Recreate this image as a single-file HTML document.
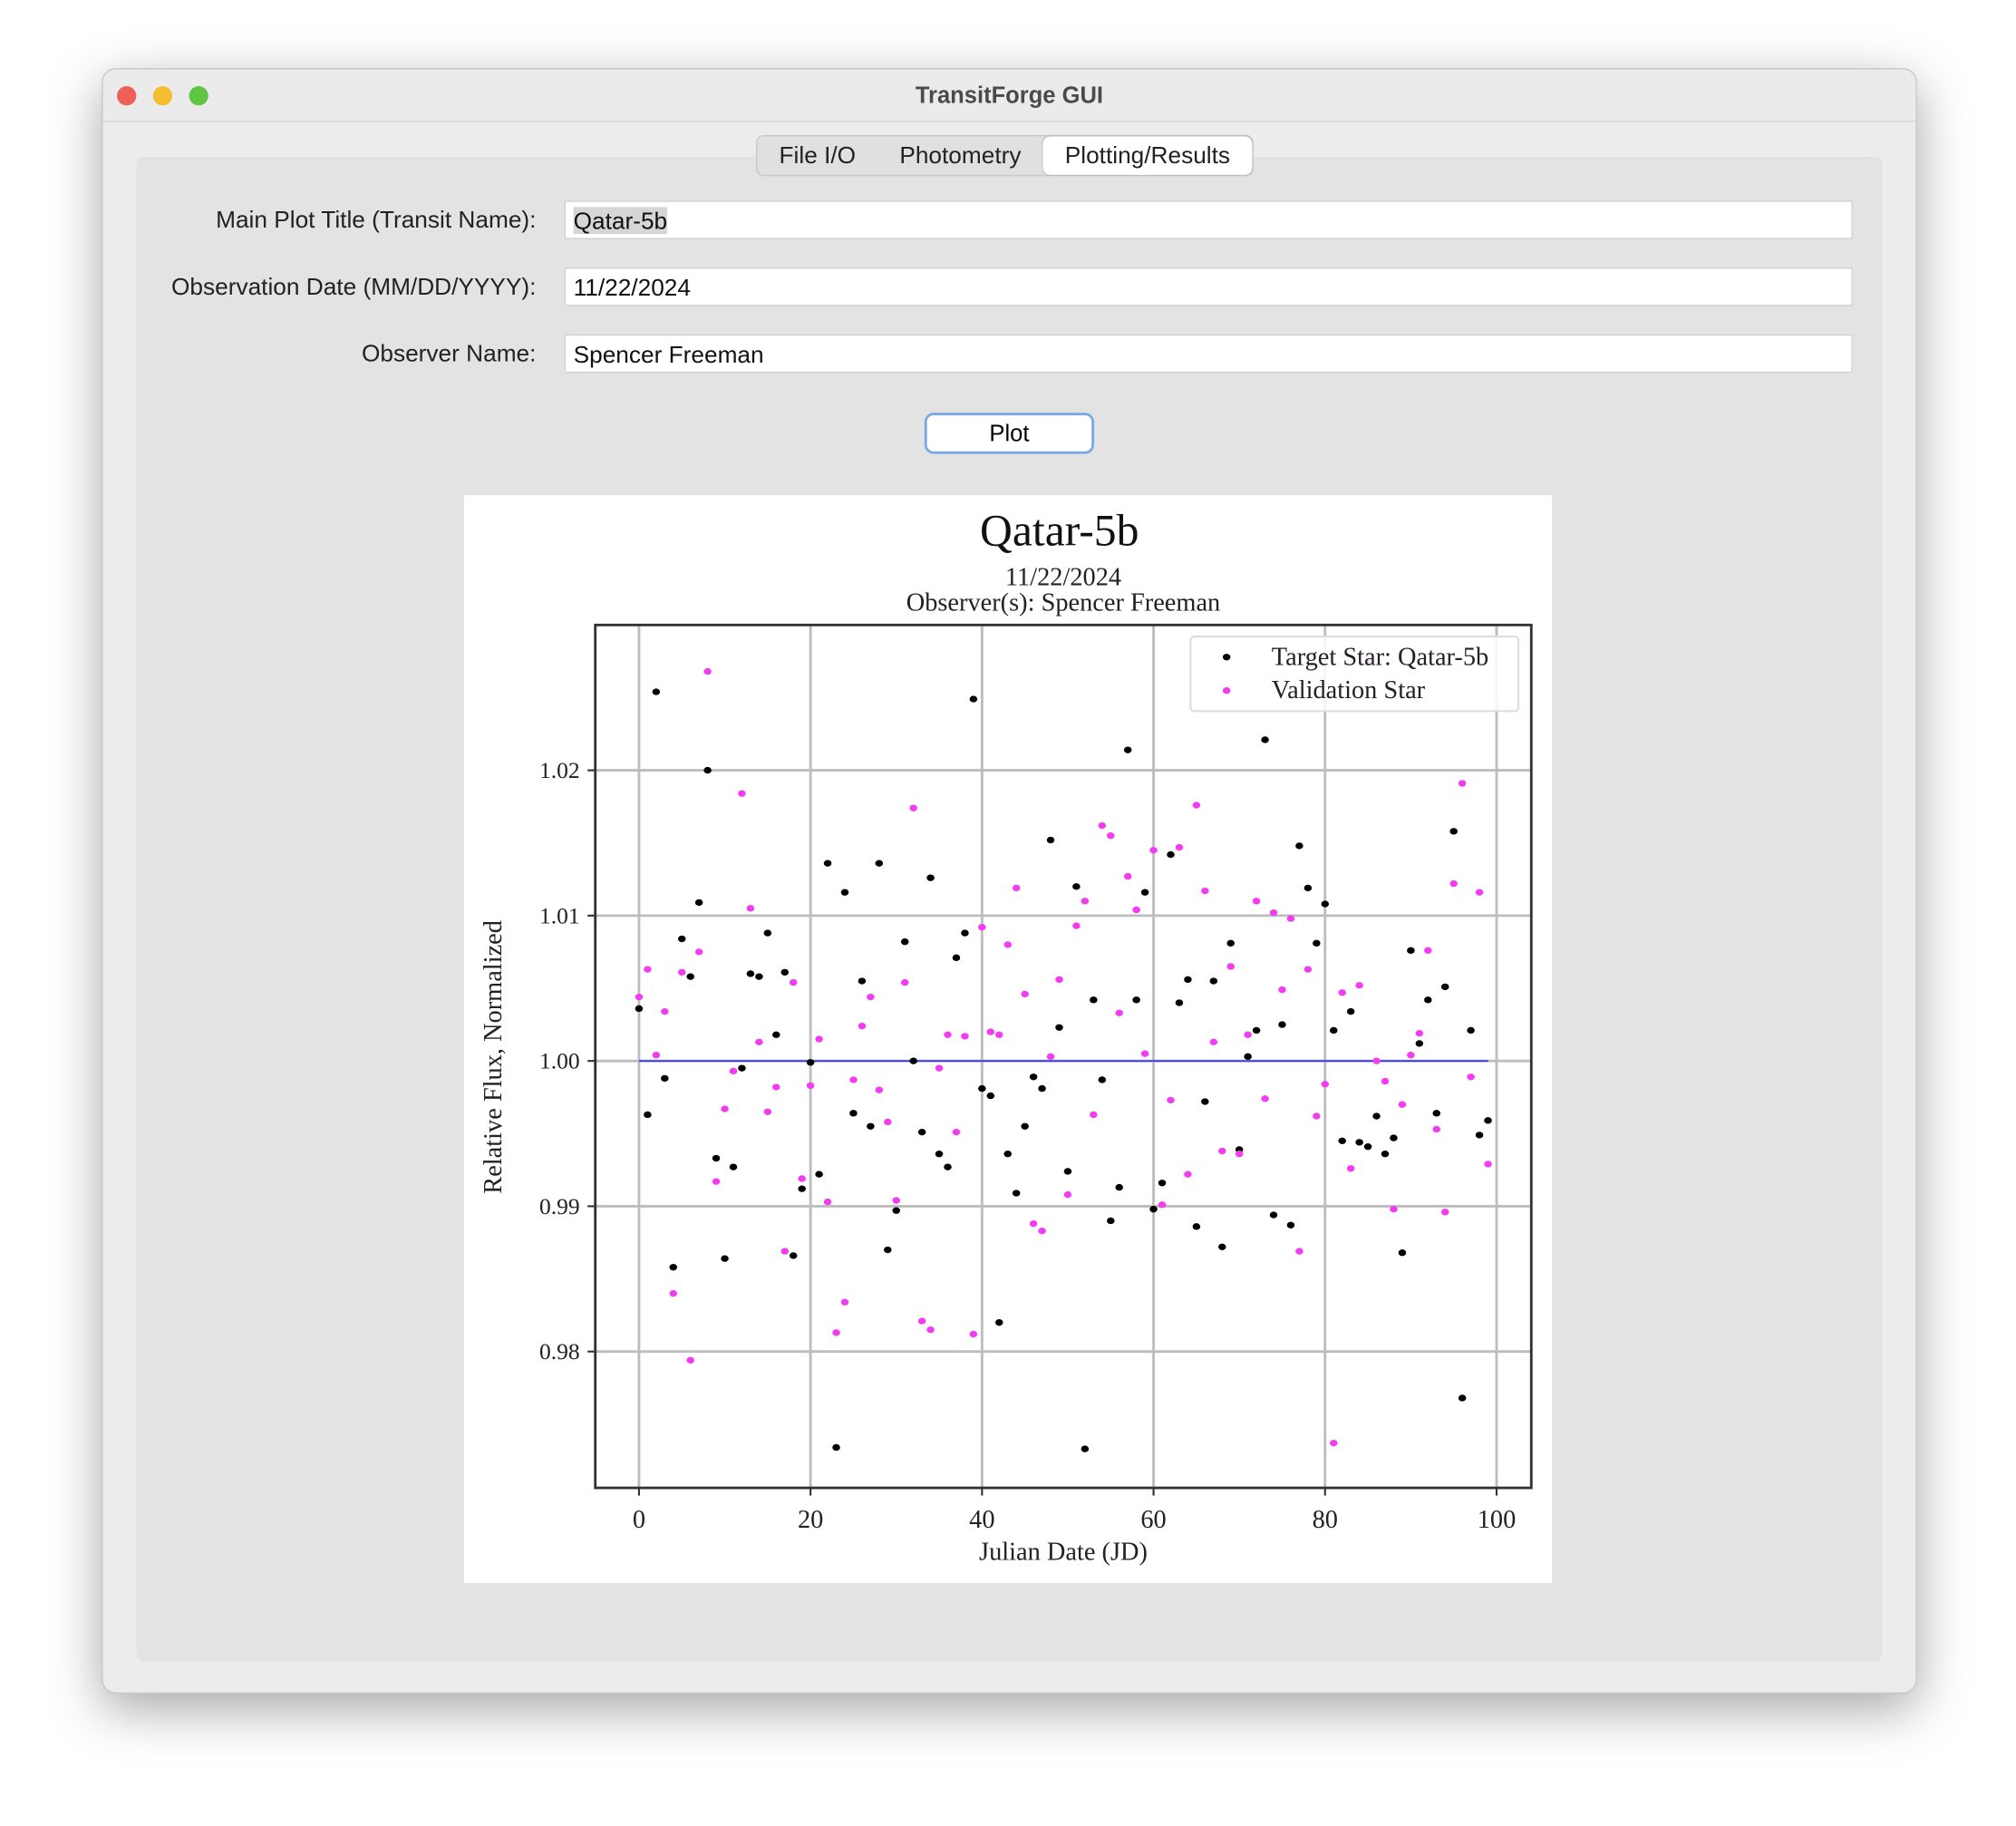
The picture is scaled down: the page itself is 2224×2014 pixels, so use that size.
<!DOCTYPE html>
<html><head><meta charset="utf-8">
<style>
html,body{margin:0;padding:0;background:#fff;}
body{width:2224px;height:2014px;overflow:hidden;font-family:"Liberation Sans",sans-serif;}
#scale{width:1568px;height:1420px;transform:scale(1.41837);transform-origin:0 0;position:relative;}
.win{position:absolute;left:79px;top:53px;width:1410px;height:1262px;background:#ececec;border-radius:11px;box-shadow:0 12px 40px rgba(0,0,0,.35);border:1px solid #c8c8c8;overflow:hidden;}
.titlebar{height:40px;border-bottom:1px solid #d4d4d4;background:#ebebeb;text-align:center;line-height:40px;font-weight:bold;font-size:18px;color:#4a4a4a;}
.dot{position:absolute;top:13px;width:15px;height:15px;border-radius:50%;}
.panel{position:absolute;left:26px;top:68px;width:1358px;height:1170px;background:#e3e3e3;border-radius:6px;}
.tabs{position:absolute;left:508px;top:51px;height:30px;display:flex;border:1px solid #c9c9c9;border-radius:6px;background:#e0e0e0;font-size:18.5px;z-index:2;}
.tab{padding:0 17px;line-height:30px;color:#222;}
.tab.sel{background:#fff;border-radius:6px;box-shadow:0 0 1px #999;}
.lbl{position:absolute;font-size:18.5px;color:#222;text-align:right;width:340px;}
.inp{position:absolute;left:333px;width:1002px;height:30px;background:#fff;border:1px solid #d0d0d0;font-size:18.5px;line-height:30px;padding-left:6px;box-sizing:border-box;color:#111;}
.btn{position:absolute;left:613px;top:199px;width:132px;height:32px;border:2px solid #7aa7e6;border-radius:7px;background:#fff;text-align:center;line-height:28px;font-size:18px;box-sizing:border-box;}
</style></head><body>
<div id="scale">
<div class="win">
  <div class="titlebar">TransitForge GUI</div>
  <div class="dot" style="left:11px;background:#ee5f57"></div>
  <div class="dot" style="left:39px;background:#f5bd30"></div>
  <div class="dot" style="left:67px;background:#5ec642"></div>
  <div class="tabs">
    <div class="tab">File I/O</div>
    <div class="tab">Photometry</div>
    <div class="tab sel">Plotting/Results</div>
  </div>
  <div class="panel">
    <div class="lbl" style="left:-29px;top:38px">Main Plot Title (Transit Name):</div>
    <div class="inp" style="top:34px"><span style="background:#d6d6d6">Qatar-5b</span></div>
    <div class="lbl" style="left:-29px;top:90px">Observation Date (MM/DD/YYYY):</div>
    <div class="inp" style="top:86px">11/22/2024</div>
    <div class="lbl" style="left:-29px;top:142px">Observer Name:</div>
    <div class="inp" style="top:138px">Spencer Freeman</div>
    <div class="btn">Plot</div>
  </div>
</div>
<svg id="chart" style="position:absolute;left:361px;top:385px" width="846" height="846" font-family="Liberation Serif, serif"></svg>
</div>
<script>
const target=[1.0036,0.9963,1.0254,0.9988,0.9858,1.0084,1.0058,1.0109,1.0200,0.9933,0.9864,0.9927,0.9995,1.0060,1.0058,1.0088,1.0018,1.0061,0.9866,0.9912,0.9999,0.9922,1.0136,0.9734,1.0116,0.9964,1.0055,0.9955,1.0136,0.9870,0.9897,1.0082,1.0000,0.9951,1.0126,0.9936,0.9927,1.0071,1.0088,1.0249,0.9981,0.9976,0.9820,0.9936,0.9909,0.9955,0.9989,0.9981,1.0152,1.0023,0.9924,1.0120,0.9733,1.0042,0.9987,0.9890,0.9913,1.0214,1.0042,1.0116,0.9898,0.9916,1.0142,1.0040,1.0056,0.9886,0.9972,1.0055,0.9872,1.0081,0.9939,1.0003,1.0021,1.0221,0.9894,1.0025,0.9887,1.0148,1.0119,1.0081,1.0108,1.0021,0.9945,1.0034,0.9944,0.9941,0.9962,0.9936,0.9947,0.9868,1.0076,1.0012,1.0042,0.9964,1.0051,1.0158,0.9768,1.0021,0.9949,0.9959];
const validation=[1.0044,1.0063,1.0004,1.0034,0.9840,1.0061,0.9794,1.0075,1.0268,0.9917,0.9967,0.9993,1.0184,1.0105,1.0013,0.9965,0.9982,0.9869,1.0054,0.9919,0.9983,1.0015,0.9903,0.9813,0.9834,0.9987,1.0024,1.0044,0.9980,0.9958,0.9904,1.0054,1.0174,0.9821,0.9815,0.9995,1.0018,0.9951,1.0017,0.9812,1.0092,1.0020,1.0018,1.0080,1.0119,1.0046,0.9888,0.9883,1.0003,1.0056,0.9908,1.0093,1.0110,0.9963,1.0162,1.0155,1.0033,1.0127,1.0104,1.0005,1.0145,0.9901,0.9973,1.0147,0.9922,1.0176,1.0117,1.0013,0.9938,1.0065,0.9936,1.0018,1.0110,0.9974,1.0102,1.0049,1.0098,0.9869,1.0063,0.9962,0.9984,0.9737,1.0047,0.9926,1.0052,1.0274,1.0000,0.9986,0.9898,0.9970,1.0004,1.0019,1.0076,0.9953,0.9896,1.0122,1.0191,0.9989,1.0116,0.9929];
const xTicks=[0,20,40,60,80,100];
const yTicks=[0.98,0.99,1.00,1.01,1.02];
const yTickLabels=["0.98","0.99","1.00","1.01","1.02"];
const svg=document.getElementById('chart');
const NS='http://www.w3.org/2000/svg';
const ox=361,oy=385;
const L=463-ox,R=1191-ox,T=486-oy,B=1157-oy;
const xs=v=>(497-ox)+v*(1164-497)/100;
const ys=v=>(825-oy)-(v-1)*11300;
function mk(tag,attrs,parent){const e=document.createElementNS(NS,tag);for(const k in attrs)e.setAttribute(k,attrs[k]);(parent||svg).appendChild(e);return e;}
let e=mk('rect',{x:0,y:0,width:846,height:846,fill:'#fff'});


xTicks.forEach(t=>{
  let g=mk('line',{x1:xs(t),x2:xs(t),y1:T,y2:B,stroke:'#bdbdbd','stroke-width':2});
  
  
  let tk=mk('line',{x1:xs(t),x2:xs(t),y1:B,y2:B+6,stroke:'#333','stroke-width':1.5});
  
  
  let tx=mk('text',{x:xs(t),y:B+31,'text-anchor':'middle','font-size':20,fill:'#222'});
  tx.textContent=t;
  
  
});
yTicks.forEach((t,i)=>{
  let g=mk('line',{x1:L,x2:R,y1:ys(t),y2:ys(t),stroke:'#bdbdbd','stroke-width':2});
  
  
  let tk=mk('line',{x1:L-6,x2:L,y1:ys(t),y2:ys(t),stroke:'#333','stroke-width':1.5});
  
  
  let tx=mk('text',{x:L-12,y:ys(t)+6,'text-anchor':'end','font-size':18,fill:'#222'});
  tx.textContent=yTickLabels[i];
  
  
});
let ref=mk('line',{x1:xs(0),x2:xs(99),y1:ys(1),y2:ys(1),stroke:'#3b3bff','stroke-width':1.3});


target.forEach((v,i)=>{
  let c=mk('ellipse',{cx:xs(i),cy:ys(v),rx:3,ry:2.6,fill:'#000'});
  
  
});
validation.forEach((v,i)=>{
  let c=mk('ellipse',{cx:xs(i),cy:ys(v),rx:3,ry:2.6,fill:'#f23cf2'});
  
  
});
let fr=mk('rect',{x:L,y:T,width:R-L,height:B-T,fill:'none',stroke:'#333','stroke-width':2});


let lg=mk('rect',{x:926-ox,y:495-oy,width:255,height:58,fill:'#fff','fill-opacity':0.85,stroke:'#ddd','stroke-width':1.5,rx:3});


[['#000','Target Star: Qatar-5b',511],['#f23cf2','Validation Star',537]].forEach(([col,txt,yy])=>{
  let d=mk('ellipse',{cx:954-ox,cy:yy-oy,rx:3,ry:2.6,fill:col});
  
  
  let t=mk('text',{x:989-ox,y:yy-oy+6,'font-size':20,fill:'#222'});
  t.textContent=txt;
  
  
});
let tt=mk('text',{x:824-ox,y:424-oy,'text-anchor':'middle','font-size':35,fill:'#111'});
tt.textContent='Qatar-5b';


let st=mk('text',{x:827-ox,y:455-oy,'text-anchor':'middle','font-size':20,fill:'#222'});
st.textContent='11/22/2024';


let so=mk('text',{x:827-ox,y:475-oy,'text-anchor':'middle','font-size':20,fill:'#222'});
so.textContent='Observer(s): Spencer Freeman';


let xl=mk('text',{x:827-ox,y:1213-oy,'text-anchor':'middle','font-size':20,fill:'#222'});
xl.textContent='Julian Date (JD)';


let yl=mk('text',{x:0,y:0,'text-anchor':'middle','font-size':20,fill:'#222',transform:`translate(${390-ox},${822-oy}) rotate(-90)`});
yl.textContent='Relative Flux, Normalized';


</script>
</body></html>
